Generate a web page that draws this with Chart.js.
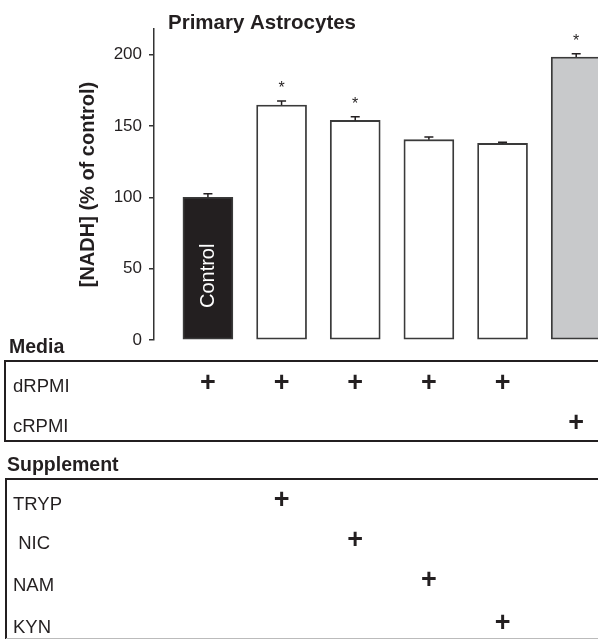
<!DOCTYPE html>
<html>
<head>
<meta charset="utf-8">
<script src="https://cdn.jsdelivr.net/npm/chart.js@4/dist/chart.umd.min.js"></script>
<style>
html,body{margin:0;padding:0;background:#fff;}
#wrap{position:relative;width:598px;height:639px;}
</style>
</head>
<body>
<div id="wrap"><canvas id="c" width="598" height="639"></canvas></div>
<script>
// ---- data ----
const categories = ['Control', 'TRYP', 'NIC', 'NAM', 'KYN', 'cRPMI'];
const nadhMean = [100, 164.7, 153.9, 140.4, 137.8, 198.4];
const nadhErr = [2.6, 2.8, 2.6, 1.9, 0.8, 2.3];
const significant = [false, true, true, false, false, true];
const barFill = ['#231f20', '#ffffff', '#ffffff', '#ffffff', '#ffffff', '#c8c9cb'];
const yTickStep = 50;
const yMax = 218;
const mediaRows = ['dRPMI', 'cRPMI'];
const mediaMarks = [[1, 1, 1, 1, 1, 0], [0, 0, 0, 0, 0, 1]];
const supplementRows = ['TRYP', ' NIC', 'NAM', 'KYN'];
const supplementMarks = [[0, 1, 0, 0, 0, 0], [0, 0, 1, 0, 0, 0], [0, 0, 0, 1, 0, 0], [0, 0, 0, 0, 1, 0]];

const FONT = "'Liberation Sans', Arial, Helvetica, sans-serif";
const INK = '#231f20';

const points = categories.map((c, i) => ({x: i + 1, y: nadhMean[i]}));

const overlay = {
  id: 'overlay',
  afterDatasetsDraw(chart) {
    const ctx = chart.ctx;
    const xs = chart.scales.x, ys = chart.scales.y;
    ctx.save();
    // error bars + stars
    categories.forEach((c, i) => {
      const x = xs.getPixelForValue(i + 1);
      const yT = ys.getPixelForValue(nadhMean[i]);
      const yE = ys.getPixelForValue(nadhMean[i] + nadhErr[i]);
      ctx.strokeStyle = INK;
      ctx.lineWidth = 1.5;
      ctx.beginPath();
      ctx.moveTo(x, yT); ctx.lineTo(x, yE);
      ctx.moveTo(x - 4.5, yE); ctx.lineTo(x + 4.5, yE);
      ctx.stroke();
      if (significant[i]) {
        ctx.fillStyle = INK;
        ctx.font = '16px ' + FONT;
        ctx.textAlign = 'center';
        ctx.textBaseline = 'alphabetic';
        ctx.fillText('*', x, yE - 17 + 9.2);
      }
    });
    // Control label in bar
    const x0 = xs.getPixelForValue(1);
    const yc = ys.getPixelForValue(nadhMean[0] * 0.45);
    ctx.save();
    ctx.translate(x0 + 6.5, yc);
    ctx.rotate(-Math.PI / 2);
    ctx.fillStyle = '#ffffff';
    ctx.font = '20px ' + FONT;
    ctx.textAlign = 'center';
    ctx.textBaseline = 'alphabetic';
    ctx.fillText(categories[0], 0, 0);
    ctx.restore();
    ctx.restore();
  },
  afterDraw(chart) {
    const ctx = chart.ctx;
    const xs = chart.scales.x;
    const W = chart.width;
    ctx.save();
    // chart title
    ctx.fillStyle = INK;
    ctx.font = 'bold 20.5px ' + FONT;
    ctx.textAlign = 'left';
    ctx.textBaseline = 'alphabetic';
    ctx.fillText('Primary Astrocytes', 168, 29);

    function plus(x, cy) {
      ctx.font = 'bold 27px ' + FONT;
      ctx.textAlign = 'center';
      ctx.textBaseline = 'alphabetic';
      ctx.fillText('+', x, cy + 9.5);
    }
    ctx.strokeStyle = INK;
    ctx.lineWidth = 2;
    // Media section
    ctx.font = 'bold 19.5px ' + FONT;
    ctx.textAlign = 'left';
    ctx.fillText('Media', 9, 353);
    ctx.beginPath();
    ctx.moveTo(W + 2, 361); ctx.lineTo(5, 361); ctx.lineTo(5, 441); ctx.lineTo(W + 2, 441);
    ctx.stroke();
    const mediaBase = [392, 431.5], mediaPlus = [381, 421.5];
    mediaRows.forEach((r, k) => {
      ctx.font = '18.5px ' + FONT;
      ctx.textAlign = 'left';
      ctx.fillText(r, 13, mediaBase[k]);
      mediaMarks[k].forEach((m, j) => { if (m) plus(xs.getPixelForValue(j + 1), mediaPlus[k]); });
    });
    // Supplement section
    ctx.font = 'bold 19.5px ' + FONT;
    ctx.textAlign = 'left';
    ctx.fillText('Supplement', 7, 470.5);
    ctx.beginPath();
    ctx.moveTo(W + 2, 479); ctx.lineTo(6, 479); ctx.lineTo(6, 642);
    ctx.stroke();
    ctx.strokeStyle = '#bbbbbb';
    ctx.lineWidth = 1;
    ctx.beginPath();
    ctx.moveTo(6, 638.5); ctx.lineTo(W, 638.5);
    ctx.stroke();
    const supBase = [510, 549, 591, 633], supPlus = [498.5, 538.5, 578.5, 621.5];
    supplementRows.forEach((r, k) => {
      ctx.font = '18.5px ' + FONT;
      ctx.textAlign = 'left';
      ctx.fillStyle = INK;
      ctx.fillText(r, 13, supBase[k]);
      supplementMarks[k].forEach((m, j) => { if (m) plus(xs.getPixelForValue(j + 1), supPlus[k]); });
    });
    ctx.restore();
  }
};

new Chart(document.getElementById('c'), {
  type: 'bar',
  data: {
    datasets: [{
      data: points,
      backgroundColor: barFill,
      borderColor: '#3a3a3a',
      borderWidth: 1.8,
      borderSkipped: false,
      barThickness: 50
    }]
  },
  options: {
    responsive: false,
    animation: false,
    devicePixelRatio: 1,
    layout: {padding: {top: 29, right: 0, bottom: 299, left: 0}},
    plugins: {legend: {display: false}, tooltip: {enabled: false}, title: {display: false}},
    scales: {
      x: {
        type: 'linear',
        display: false,
        offset: false,
        min: 0.268,
        max: 6.296
      },
      y: {
        min: 0,
        max: yMax,
        afterFit(scale) { scale.width = 154; },
        ticks: {
          stepSize: yTickStep,
          includeBounds: false,
          color: INK,
          padding: 7,
          font: {family: FONT, size: 17}
        },
        grid: {
          drawOnChartArea: false,
          drawTicks: true,
          tickLength: 5,
          color: '#333333',
          lineWidth: 1.5
        },
        border: {display: true, color: '#333333', width: 1.5},
        title: {
          display: true,
          text: '[NADH] (% of control)',
          color: INK,
          font: {family: FONT, size: 20, weight: 'bold'},
          padding: {top: 76, bottom: 0}
        }
      }
    }
  },
  plugins: [overlay]
});
</script>
</body>
</html>
